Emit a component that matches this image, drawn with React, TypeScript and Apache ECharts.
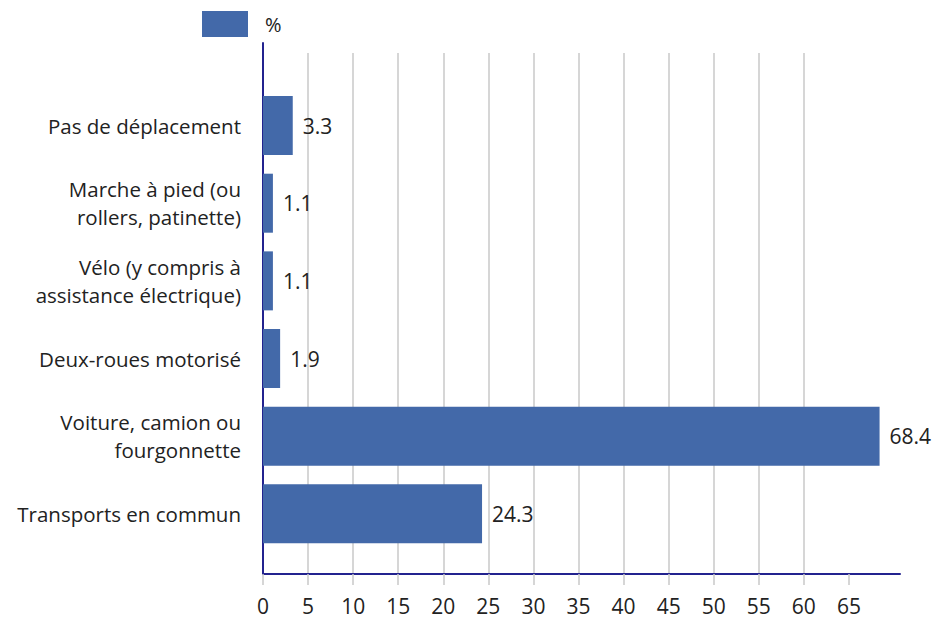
import React, { useEffect, useRef } from "react";
import * as echarts from "echarts";

const categories = [
  "Pas de déplacement",
  "Marche à pied (ou\nrollers, patinette)",
  "Vélo (y compris à\nassistance électrique)",
  "Deux-roues motorisé",
  "Voiture, camion ou\nfourgonnette",
  "Transports en commun",
];
const values = [3.3, 1.1, 1.1, 1.9, 68.4, 24.3];
const xTicks = [0, 5, 10, 15, 20, 25, 30, 35, 40, 45, 50, 55, 60, 65];
const seriesName = "%";

const FONT = "'Open Sans', sans-serif";
const BAR = "#4369a9";
const NAVY = "#23238f";
const GRID = "#c9c9c9";
const TEXT = "#222222";

export default function App() {
  const ref = useRef<HTMLDivElement>(null);
  useEffect(() => {
    if (!ref.current) return;
    const chart = echarts.init(ref.current, undefined, { renderer: "svg" });
    chart.setOption({
      animation: false,
      textStyle: { fontFamily: FONT },
      legend: {
        left: 202,
        top: 11,
        padding: 0,
        itemWidth: 46,
        itemHeight: 26,
        icon: "rect",
        data: [seriesName],
        textStyle: { fontFamily: FONT, fontSize: 20, color: TEXT, padding: [0, 0, 0, 12] },
      },
      grid: [
        { left: 263, right: 41, top: 53, bottom: 48 },
        { left: 263, right: 35, top: 43, bottom: 48 },
        { left: 263, right: 41, top: 86.7, bottom: 69.3 },
      ],
      xAxis: [
        {
          gridIndex: 0,
          type: "value",
          min: 0,
          max: 70,
          interval: 5,
          axisLine: { show: false },
          splitLine: { show: true, showMaxLine: false, lineStyle: { color: GRID, width: 1.5 } },
          axisTick: { show: true, length: 11, customValues: xTicks, lineStyle: { color: GRID, width: 1.5 } },
          axisLabel: {
            customValues: xTicks,
            margin: 21,
            fontFamily: FONT,
            fontSize: 21,
            color: TEXT,
          },
        },
        {
          gridIndex: 1,
          type: "value",
          min: 0,
          max: 1,
          axisLine: { show: true, onZero: false, lineStyle: { color: NAVY, width: 2 } },
          axisTick: { show: false },
          axisLabel: { show: false },
          splitLine: { show: false },
        },
        {
          gridIndex: 2,
          type: "value",
          min: 0,
          max: 70,
          show: false,
        },
      ],
      yAxis: [
        { gridIndex: 0, type: "value", show: false },
        {
          gridIndex: 1,
          type: "value",
          min: 0,
          max: 1,
          axisLine: { show: true, onZero: false, lineStyle: { color: NAVY, width: 2 } },
          axisTick: { show: false },
          axisLabel: { show: false },
          splitLine: { show: false },
        },
        {
          gridIndex: 2,
          type: "category",
          inverse: true,
          data: categories,
          axisLine: { show: false },
          axisTick: { show: false },
          axisLabel: {
            margin: 22,
            fontFamily: FONT,
            fontSize: 20.5,
            lineHeight: 28,
            color: TEXT,
            align: "right",
          },
        },
      ],
      series: [
        {
          name: seriesName,
          type: "bar",
          xAxisIndex: 2,
          yAxisIndex: 2,
          data: values,
          barWidth: 59,
          itemStyle: { color: BAR },
          label: {
            show: true,
            position: "right",
            distance: 10,
            fontFamily: FONT,
            fontSize: 21,
            color: TEXT,
            formatter: (p: any) => p.value.toFixed(1),
          },
        },
      ],
    });
    return () => chart.dispose();
  }, []);
  return <div ref={ref} style={{ width: 935, height: 622, position: "absolute", left: 0, top: 0 }} />;
}
